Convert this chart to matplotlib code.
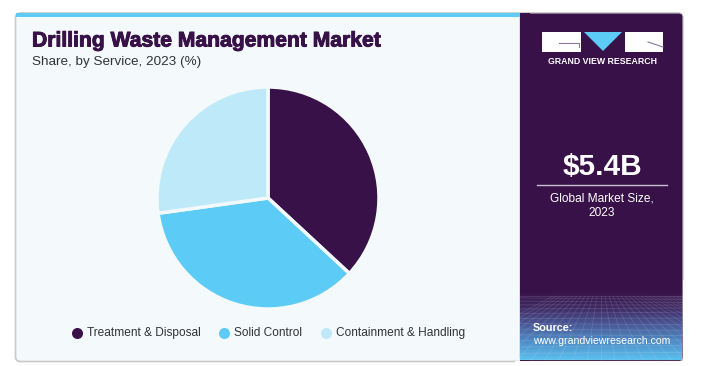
import numpy as np
import matplotlib
matplotlib.use("Agg")
import matplotlib.pyplot as plt
import matplotlib.patheffects as pe
from matplotlib.patches import FancyBboxPatch, Rectangle, Polygon
from matplotlib.colors import LinearSegmentedColormap

matplotlib.rcParams['font.family'] = ['Liberation Sans', 'DejaVu Sans']

# data
services = ['Treatment & Disposal', 'Solid Control', 'Containment & Handling']
shares = [36.9, 35.9, 27.2]
colors = ['#371147', '#5ccbf5', '#bde9f9']

title = "Drilling Waste Management Market"
subtitle = "Share, by Service, 2023 (%)"
market_size = "$5.4B"
market_label = "Global Market Size,\n2023"

PURPLE = '#371147'
W, H = 714, 366

fig = plt.figure(figsize=(W / 100, H / 100), dpi=100)
fig.patch.set_facecolor('white')

# background axes in pixel coords
bg = fig.add_axes([0, 0, 1, 1])
bg.set_xlim(0, W)
bg.set_ylim(H, 0)
bg.axis('off')

# left card
bg.add_patch(FancyBboxPatch((15.5, 13), 667, 348.5, boxstyle="round,pad=0,rounding_size=5",
                            facecolor='#f4f9fc', edgecolor='#c9c9c9', lw=1.2, zorder=1))
# cyan top strip
bg.add_patch(Rectangle((16, 12.5), 505, 4.5, facecolor='#5ccbf5', edgecolor='none', zorder=2))

# right panel
bg.add_patch(FancyBboxPatch((520, 13), 163, 348.5, boxstyle="round,pad=0,rounding_size=4",
                            facecolor=PURPLE, edgecolor='#c9c9c9', lw=0.8, zorder=2))
bg.add_patch(Rectangle((520, 13), 10, 348.5, facecolor=PURPLE, edgecolor='none', zorder=3))

# bottom gradient of the right panel
grad_cmap = LinearSegmentedColormap.from_list('g', [PURPLE, '#3f2a63', '#4a5a98', '#4f8fc8', '#5cc0ee'])
grad = np.linspace(0, 1, 100).reshape(-1, 1)
bg.imshow(grad, cmap=grad_cmap, extent=(520, 682, 360, 290), aspect='auto', zorder=3,
          interpolation='bilinear')
# faint mesh
for k in range(14):
    yy = 296 + (k ** 1.35) * 2.0
    bg.plot([520, 682], [yy, yy + 1.5 * np.sin(k)], color='white', alpha=0.13, lw=0.6, zorder=4)
for k in range(-12, 26):
    x0 = 601 + k * 4
    x1 = 601 + k * 14
    bg.plot([x0, x1], [296, 360], color='white', alpha=0.12, lw=0.6, zorder=4)
bg.add_patch(Rectangle((682.5, 280), 3, 85, facecolor='white', edgecolor='none', zorder=5))
bg.add_patch(Rectangle((515, 360.5), 170, 6, facecolor='white', edgecolor='none', zorder=5))

# logo
bg.add_patch(Rectangle((542, 32), 39, 20, facecolor='white', edgecolor='none', zorder=6))
bg.add_patch(Rectangle((625, 32), 38, 20, facecolor='white', edgecolor='none', zorder=6))
bg.add_patch(Polygon([(584, 32), (622, 32), (603, 51)], closed=True, facecolor='#5ccbf5',
                     edgecolor='none', zorder=6))
bg.plot([559, 579, 579], [43, 43, 47], color='#8a7aa0', lw=0.8, zorder=7)
bg.plot([648, 663], [42, 47], color='#8a7aa0', lw=0.8, zorder=7)
bg.text(602.5, 62, "GRAND VIEW RESEARCH", color='white', fontsize=6.3, fontweight='bold',
        ha='center', va='center', zorder=7)

# market size
bg.text(602, 167, market_size, color='white', fontsize=21.5, fontweight='bold',
        ha='center', va='center', zorder=7)
bg.plot([537, 667], [185, 185], color='#c9bfd4', lw=1.0, zorder=7)
bg.text(602, 206, market_label, color='white', fontsize=8.6, ha='center', va='center',
        linespacing=1.25, zorder=7)

# source
bg.text(533, 328, "Source:", color='white', fontsize=7.8, fontweight='bold',
        ha='left', va='center', zorder=7)
bg.text(533, 341, "www.grandviewresearch.com", color='white', fontsize=7.6,
        ha='left', va='center', zorder=7)

# titles
bg.text(32, 41, title, color=PURPLE, fontsize=15.2, fontweight='bold',
        ha='left', va='center', zorder=7,
        path_effects=[pe.withStroke(linewidth=0.7, foreground=PURPLE)])
bg.text(32, 62, subtitle, color='#333333', fontsize=9.7, ha='left', va='center', zorder=7)

# pie
cx, cy, r = 268, 198, 111
pax = fig.add_axes([(cx - r) / W, (H - cy - r) / H, 2 * r / W, 2 * r / H])
pax.pie(shares, colors=colors, startangle=90, counterclock=False,
        wedgeprops=dict(edgecolor='#f4f9fc', linewidth=2.5))
pax.set_xlim(-1, 1)
pax.set_ylim(-1, 1)
pax.set_aspect('auto')
pax.axis('off')

# legend
legend_x = [77, 224, 326]
for lx, name, col in zip(legend_x, services, colors):
    bg.scatter([lx], [333], s=48, color=col, zorder=7)
    bg.text(lx + 10, 333, name, color='#333333', fontsize=8.6, ha='left', va='center', zorder=7)

fig.savefig("out.png", dpi=100)
